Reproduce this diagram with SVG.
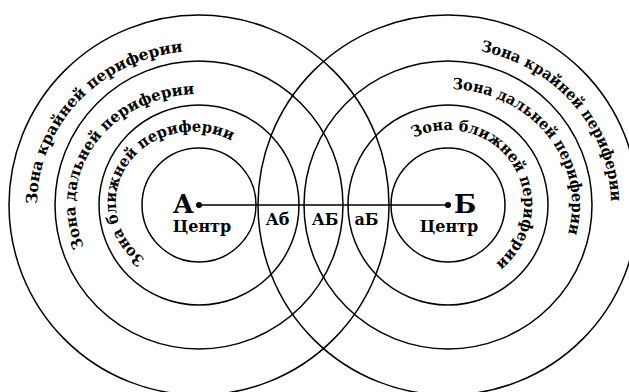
<svg xmlns="http://www.w3.org/2000/svg" width="629" height="392" viewBox="0 0 629 392">
<style>
.c{fill:none;stroke:#000;stroke-width:1.5}
.t{font-family:"DejaVu Serif","Liberation Serif",serif;font-weight:bold;fill:#000}
.z{font-size:15.5px}
.big{font-size:26px}
.mid{font-size:16px}
</style>
<defs>
<path id="pLo" d="M37,204 A162,154 0 0 1 182.1,51.8"/>
<path id="pLm" d="M84.2,246.8 A123,111 0 0 1 191.5,94.2"/>
<path id="pLi" d="M145.2,259 A76,70 0 0 1 241.5,147"/>
<path id="pRo" d="M480.5,51.2 A163,157 0 0 1 610.9,199.5"/>
<path id="pRm" d="M452.3,89.1 A124,116 0 0 1 568.5,232.3"/>
<path id="pRi" d="M414,137.9 A76,75 0 0 1 495.2,263.8"/>
</defs>
<rect width="629" height="392" fill="#fff"/>
<g id="centerA">
<circle class="c" cx="199" cy="205" r="57"/>
<circle cx="199" cy="205" r="3"/>
<text class="t big" x="194" y="213" text-anchor="end">А</text>
<text class="t mid" x="202" y="232" text-anchor="middle">Центр</text>
</g>
<g id="zonesA">
<circle class="c" cx="199" cy="205" r="100"/>
<circle class="c" cx="199" cy="205" r="144"/>
<circle class="c" cx="199" cy="205" r="190"/>
<text class="t z"><textPath href="#pLo" textLength="231" lengthAdjust="spacingAndGlyphs">Зона крайней периферии</textPath></text>
<text class="t z"><textPath href="#pLm" textLength="223" lengthAdjust="spacingAndGlyphs">Зона дальней периферии</textPath></text>
<text class="t z"><textPath href="#pLi" textLength="222" lengthAdjust="spacingAndGlyphs">Зона ближней периферии</textPath></text>
</g>
<g id="centerB">
<circle class="c" cx="448" cy="205" r="57"/>
<circle cx="448" cy="205" r="3"/>
<text class="t big" x="454" y="213">Б</text>
<text class="t mid" x="449" y="232" text-anchor="middle">Центр</text>
</g>
<g id="zonesB">
<circle class="c" cx="448" cy="205" r="100"/>
<circle class="c" cx="448" cy="205" r="144"/>
<circle class="c" cx="448" cy="205" r="190"/>
<text class="t z"><textPath href="#pRo" textLength="215" lengthAdjust="spacingAndGlyphs">Зона крайней периферии</textPath></text>
<text class="t z"><textPath href="#pRm" textLength="213" lengthAdjust="spacingAndGlyphs">Зона дальней периферии</textPath></text>
<text class="t z"><textPath href="#pRi" textLength="221" lengthAdjust="spacingAndGlyphs">Зона ближней периферии</textPath></text>
</g>
<g id="overlaps">
<text class="t mid" x="277.5" y="225" text-anchor="middle">Аб</text>
<text class="t mid" x="325" y="225" text-anchor="middle">АБ</text>
<text class="t mid" x="366.5" y="225" text-anchor="middle">аБ</text>
</g>
<g id="connectors">
<line x1="199" y1="205" x2="448" y2="205" stroke="#000" stroke-width="1.5"/>
</g>
</svg>
